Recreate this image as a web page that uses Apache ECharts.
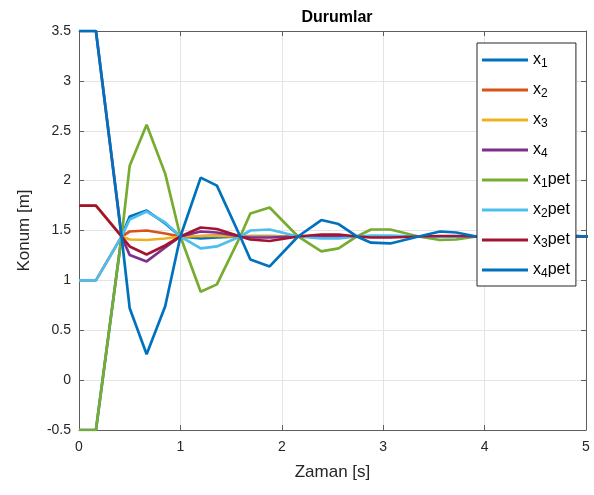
<!DOCTYPE html>
<html>
<head>
<meta charset="utf-8">
<script src="https://cdn.jsdelivr.net/npm/echarts@6/dist/echarts.min.js"></script>
<style>
html,body{margin:0;padding:0;background:#fff;}
#c{width:594px;height:495px;}
</style>
</head>
<body>
<div id="c"></div>
<script>
// time samples [s]
const T = [0, 0.167, 0.42, 0.5, 0.667, 0.85, 1.0, 1.2, 1.36, 1.59, 1.69, 1.88, 2.16, 2.39, 2.56, 2.74, 2.88, 3.07, 3.35, 3.56, 3.72, 3.92, 4.1, 4.3, 4.5, 4.7, 4.85, 5.0, 5.08];

const x1    = [-0.5, -0.5, 1.44, 1.64, 1.70, 1.57, 1.44, 1.42, 1.43, 1.44, 1.445, 1.445, 1.44, 1.44, 1.44, 1.44, 1.44, 1.44, 1.44, 1.44, 1.44, 1.44, 1.44, 1.44, 1.44, 1.44, 1.44, 1.44, 1.44];
const x2    = [1.0, 1.0, 1.44, 1.49, 1.50, 1.47, 1.44, 1.445, 1.45, 1.44, 1.44, 1.44, 1.44, 1.44, 1.44, 1.44, 1.44, 1.44, 1.44, 1.44, 1.44, 1.44, 1.44, 1.44, 1.44, 1.44, 1.44, 1.44, 1.44];
const x3    = [1.75, 1.75, 1.44, 1.41, 1.405, 1.42, 1.44, 1.445, 1.445, 1.44, 1.44, 1.44, 1.44, 1.44, 1.44, 1.44, 1.44, 1.44, 1.44, 1.44, 1.44, 1.44, 1.44, 1.44, 1.44, 1.44, 1.44, 1.44, 1.44];
const x4    = [3.5, 3.5, 1.44, 1.255, 1.19, 1.33, 1.44, 1.49, 1.48, 1.44, 1.43, 1.43, 1.44, 1.445, 1.445, 1.44, 1.44, 1.44, 1.44, 1.44, 1.44, 1.44, 1.44, 1.44, 1.44, 1.44, 1.44, 1.44, 1.44];
const x1pet = [-0.5, -0.5, 1.44, 2.15, 2.56, 2.07, 1.44, 0.886, 0.96, 1.44, 1.67, 1.73, 1.44, 1.29, 1.32, 1.44, 1.51, 1.51, 1.44, 1.405, 1.41, 1.44, 1.45, 1.45, 1.44, 1.435, 1.435, 1.44, 1.44];
const x2pet = [1.0, 1.0, 1.44, 1.61, 1.69, 1.58, 1.44, 1.32, 1.34, 1.44, 1.50, 1.51, 1.44, 1.42, 1.42, 1.44, 1.45, 1.45, 1.44, 1.435, 1.435, 1.44, 1.44, 1.44, 1.44, 1.44, 1.44, 1.44, 1.44];
const x3pet = [1.75, 1.75, 1.44, 1.34, 1.26, 1.35, 1.44, 1.53, 1.515, 1.44, 1.41, 1.395, 1.44, 1.46, 1.46, 1.44, 1.43, 1.43, 1.44, 1.445, 1.445, 1.44, 1.44, 1.44, 1.44, 1.44, 1.44, 1.44, 1.44];
const x4pet = [3.5, 3.5, 1.44, 0.72, 0.26, 0.74, 1.44, 2.03, 1.95, 1.44, 1.21, 1.14, 1.44, 1.605, 1.565, 1.44, 1.378, 1.37, 1.44, 1.49, 1.48, 1.44, 1.42, 1.42, 1.44, 1.45, 1.45, 1.44, 1.44];

const seriesNames = ['x1', 'x2', 'x3', 'x4', 'x1pet', 'x2pet', 'x3pet', 'x4pet'];
const seriesData = [x1, x2, x3, x4, x1pet, x2pet, x3pet, x4pet];
const colors = ['#0072BD', '#D95319', '#EDB120', '#7E2F8E', '#77AC30', '#4DBEEE', '#A2142F', '#0072BD'];

const FONT = '"Liberation Sans", Arial, Helvetica, sans-serif';
const axisCol = '#5e5e5e';
const gridCol = '#e4e4e4';
const txtCol = '#262626';

const chart = echarts.init(document.getElementById('c'), null, {renderer: 'canvas'});

const series = seriesNames.map((n, k) => ({
  name: n,
  type: 'line',
  data: T.map((t, i) => [t, seriesData[k][i]]),
  symbol: 'none',
  clip: k !== 7,
  lineStyle: {width: 2.7, color: colors[k]},
  itemStyle: {color: colors[k]},
  emphasis: {disabled: true},
  animation: false
}));

function baseAxis(extra) {
  return Object.assign({
    type: 'value',
    axisLine: {show: true, onZero: false, lineStyle: {color: axisCol, width: 1}},
    axisTick: {show: true, inside: true, length: 5, lineStyle: {color: axisCol}},
    splitLine: {show: true, lineStyle: {color: gridCol, width: 1}},
    axisLabel: {color: txtCol, fontSize: 14, fontFamily: FONT}
  }, extra);
}

chart.setOption({
  backgroundColor: '#fff',
  animation: false,
  textStyle: {fontFamily: FONT},
  title: {
    text: 'Durumlar',
    left: 332, top: 5,
    textAlign: 'center',
    textStyle: {fontSize: 16, fontWeight: 'bold', color: '#000', fontFamily: FONT}
  },
  grid: {left: 79, right: 8, top: 31, bottom: 65, containLabel: false},
  xAxis: [
    baseAxis({min: 0, max: 5, interval: 1, position: 'bottom',
      axisLabel: {color: txtCol, fontSize: 14, fontFamily: FONT, margin: 10},
      name: 'Zaman [s]', nameLocation: 'middle', nameGap: 34,
      nameTextStyle: {fontSize: 17, color: txtCol, fontFamily: FONT}}),
    baseAxis({min: 0, max: 5, interval: 1, position: 'top',
      axisLabel: {show: false}, splitLine: {show: false}})
  ],
  yAxis: [
    baseAxis({min: -0.5, max: 3.5, interval: 0.5, position: 'left',
      axisLabel: {color: txtCol, fontSize: 14, fontFamily: FONT, margin: 8},
      name: 'Konum [m]', nameLocation: 'middle', nameGap: 46,
      nameTextStyle: {fontSize: 17, color: txtCol, fontFamily: FONT}}),
    baseAxis({min: -0.5, max: 3.5, interval: 0.5, position: 'right',
      axisLabel: {show: false}, splitLine: {show: false}})
  ],
  legend: {
    orient: 'vertical',
    left: 477, top: 43,
    icon: 'rect',
    itemWidth: 46, itemHeight: 3,
    itemGap: 10,
    padding: [7, 6, 6, 5],
    backgroundColor: '#fff',
    borderColor: '#262626',
    borderWidth: 1,
    selectedMode: false,
    data: seriesNames,
    formatter: function (n) {
      const m = n.match(/^x(\d)(.*)$/);
      return 'x{s|' + m[1] + '}' + m[2];
    },
    textStyle: {
      fontSize: 16, lineHeight: 20, color: '#000', fontFamily: FONT,
      rich: {
        s: {fontSize: 12, lineHeight: 20, padding: [8, 0, 0, 0], color: '#000', fontFamily: FONT}
      }
    }
  },
  series: series
});
</script>
</body>
</html>
